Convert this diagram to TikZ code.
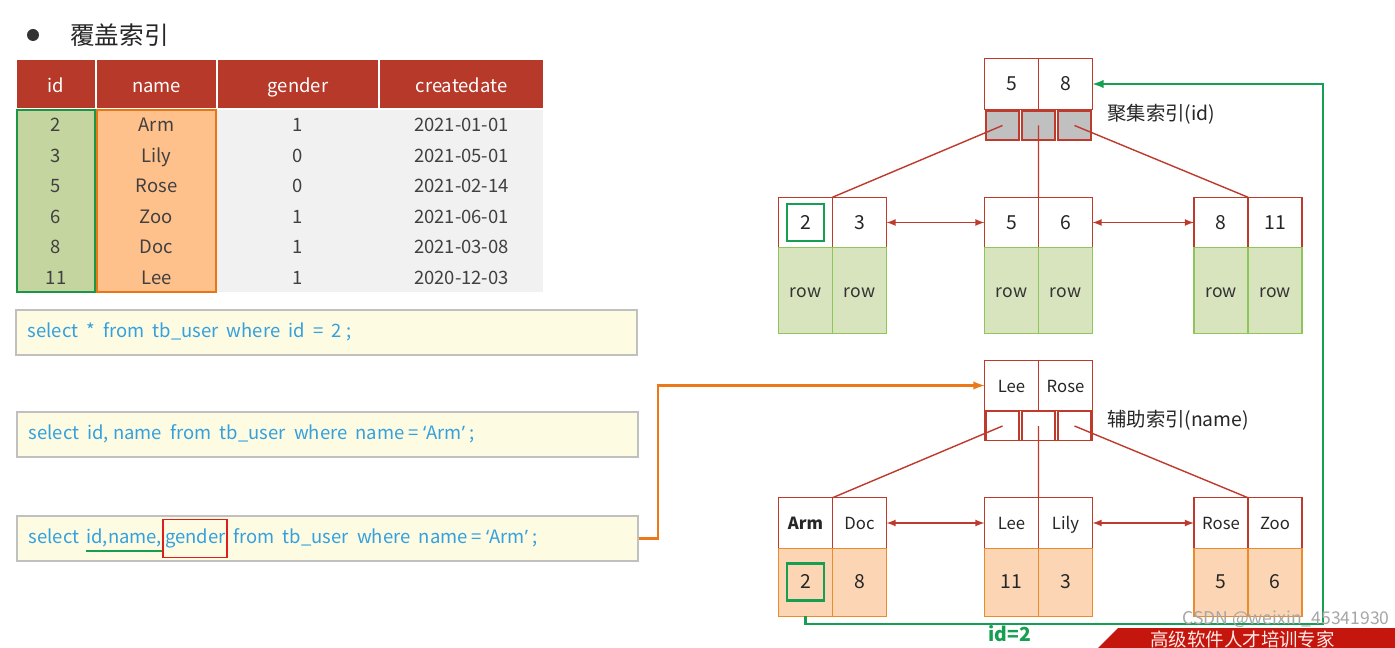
\documentclass[tikz,border=0pt]{standalone}
\usepackage{fontspec}
\setmainfont{Noto Sans CJK SC}
\newfontfamily\qfont{Noto Sans}
\usepackage{xcolor}
\usetikzlibrary{arrows,calc,positioning}

\definecolor{hdred}{RGB}{183,57,41}
\definecolor{bodygray}{RGB}{241,241,241}
\definecolor{idgreen}{RGB}{28,150,70}
\definecolor{idfill}{RGB}{197,213,160}
\definecolor{nmorange}{RGB}{232,118,20}
\definecolor{nmfill}{RGB}{255,193,140}
\definecolor{txtgray}{RGB}{64,64,64}
\definecolor{sqlbg}{RGB}{253,251,226}
\definecolor{boxgray}{RGB}{192,192,192}
\definecolor{sqlblue}{RGB}{52,160,222}
\definecolor{boxred}{RGB}{220,30,30}
\definecolor{treered}{RGB}{190,58,44}
\definecolor{ptrgray}{RGB}{192,192,192}
\definecolor{leafgreen}{RGB}{142,198,92}
\definecolor{rowgreen}{RGB}{216,228,190}
\definecolor{leaforange}{RGB}{234,140,44}
\definecolor{roworange}{RGB}{252,214,180}
\definecolor{hlgreen}{RGB}{22,158,82}
\definecolor{linkorange}{RGB}{236,120,24}
\definecolor{bannerred}{RGB}{196,22,12}

\newcommand{\qarm}{{\qfont ‘}Arm{\qfont ’}}

\begin{document}
\begin{tikzpicture}[x=0.02cm, y=-0.02cm,
	hdr/.style={fill=hdred, text=white, minimum height=0.96cm, inner sep=0pt, text height=10pt, text depth=0pt, font=\fontsize{10.5}{12}\selectfont},
	tval/.style={inner sep=0pt, text=txtgray, text height=8pt, text depth=0pt, font=\fontsize{10.5}{12}\selectfont},
	sqlbox/.style={draw=boxgray, fill=sqlbg, line width=0.8pt, minimum width=12.42cm, minimum height=0.9cm, inner sep=0pt},
	sqltxt/.style={inner sep=0pt, text=sqlblue, text height=8pt, text depth=2.5pt, font=\fontsize{10.5}{12}\selectfont},
	key/.style={draw=treered, fill=white, line width=0.8pt, outer sep=0pt, minimum width=1.08cm, minimum height=1.01cm, inner sep=0pt, text height=7.5pt, text depth=0pt, text=black!85, font=\fontsize{11}{12}\selectfont},
	ptr/.style={draw=treered, line width=0.8pt, outer sep=0pt, minimum width=0.66cm, minimum height=0.58cm, inner sep=0pt},
	rowg/.style={draw=leafgreen, fill=rowgreen, line width=0.8pt, outer sep=0pt, minimum width=1.08cm, minimum height=1.72cm, inner sep=0pt, text height=8pt, text depth=0pt, text=black!80, font=\fontsize{10}{12}\selectfont},
	rowo/.style={draw=leaforange, fill=roworange, line width=0.8pt, outer sep=0pt, minimum width=1.08cm, minimum height=1.36cm, inner sep=0pt, text height=7.5pt, text depth=0pt, text=black!85, font=\fontsize{11}{12}\selectfont},
	hlbox/.style={draw=hlgreen, line width=1.6pt, minimum size=0.74cm, inner sep=0pt},
	link/.style={treered, line width=0.8pt},
	dlink/.style={treered, line width=0.8pt, <->, >=latex},
	idx/.style={anchor=west, inner sep=0pt, text=black!85, font=\fontsize{11}{13}\selectfont}
	]
\useasboundingbox (0,0) rectangle (1395,648);
\fill[white] (0,0) rectangle (1395,648);

% Title
\node[circle, fill=black!80, minimum size=0.24cm, inner sep=0pt] (bul) at (33,35) {};
\node[anchor=west, inner sep=0pt, text=black!85, font=\fontsize{14}{16}\selectfont] (ttl) at (70,35) {覆盖索引};

% Table header
\foreach \x/\w/\t [count=\c] in {56/1.56/id, 156.5/2.38/name, 298/3.2/gender, 461.5/3.26/createdate}
	\node[hdr, minimum width=\w cm] (h\c) at (\x,84) {\t};

% Table body
\node[fill=bodygray, minimum width=10.52cm, minimum height=3.64cm, inner sep=0pt] (body) at (280,201) {};
\node[draw=idgreen, fill=idfill, line width=1.5pt, minimum width=1.56cm, minimum height=3.64cm, inner sep=0pt] (idcol) at (56,201) {};
\node[draw=nmorange, fill=nmfill, line width=1.5pt, minimum width=2.38cm, minimum height=3.64cm, inner sep=0pt] (nmcol) at (156.5,201) {};
\foreach \y/\a/\b/\g/\d [count=\r] in {124/2/Arm/1/2021-01-01, 155/3/Lily/0/2021-05-01, 185/5/Rose/0/2021-02-14, 216/6/Zoo/1/2021-06-01, 246/8/Doc/1/2021-03-08, 277/11/Lee/1/2020-12-03}{
	\node[tval] (id\r) at (56,\y) {\a};
	\node[tval] (nm\r) at (156.5,\y) {\b};
	\node[tval] (gd\r) at (298,\y) {\g};
	\node[tval] (cd\r) at (461.5,\y) {\d};
}

% SQL statements
\node[sqlbox] (q1) at (326.5,332.5) {};
\node[sqltxt, right=0.24cm of q1.west] (t1) {select \ * \ from \ tb\_user \ where \ id \ = \ 2 ;};
\node[sqlbox] (q2) at (327.5,434.5) {};
\node[sqltxt, right=0.24cm of q2.west] (t2) {select \ id, name \ from \ tb\_user \ where \ name = \qarm\ ;};
\node[sqlbox] (q3) at (327.5,538.5) {};
\node[sqltxt, right=0.24cm of q3.west] (t3a) {select};
\node[sqltxt, right=0.13cm of t3a] (t3b) {id,name,};
\node[sqltxt, draw=boxred, line width=1pt, inner xsep=1pt, minimum height=0.76cm, right=0pt of t3b] (t3c) {gender};
\node[sqltxt, right=0.1cm of t3c] (t3d) {from \ tb\_user \ where \ name = \qarm\ ;};
\draw[hlgreen, line width=1.2pt] ([yshift=-1.5pt]t3b.south west) -- ([yshift=-1.5pt]t3b.south east);

% Clustered index (id)
\node[key] (rk1) at (1011.5,84) {5};
\node[key, right=0pt of rk1] (rk2) {8};
\foreach \x [count=\p] in {1002.5,1038.5,1074.5}
	\node[ptr, fill=ptrgray] (rp\p) at (\x,125.5) {};
\node[idx] (rl) at (1107,114) {聚集索引(id)};
\foreach \i/\x/\ka/\kb in {1/805.5/2/3, 2/1011.5/5/6, 3/1221/8/11}{
	\node[key] (ck\i a) at (\x,222.5) {\ka};
	\node[key, right=0pt of ck\i a] (ck\i b) {\kb};
	\node[rowg, below=0pt of ck\i a] (cr\i a) {row};
	\node[rowg, below=0pt of ck\i b] (cr\i b) {row};
	\draw[link] (rp\i.center) -- (ck\i a.north east);
}
\node[hlbox] (hc) at (ck1a) {};
\draw[dlink] (ck1b.east) -- (ck2a.west);
\draw[dlink] (ck2b.east) -- (ck3a.west);

% Secondary index (name)
\node[key, font=\fontsize{9.5}{11}\selectfont] (sk1) at (1011.5,385.5) {Lee};
\node[key, font=\fontsize{9.5}{11}\selectfont, right=0pt of sk1] (sk2) {Rose};
\draw[treered, line width=0.8pt] (sk1.south west) rectangle ([yshift=-0.6cm]sk2.south east);
\foreach \x [count=\p] in {1002.5,1038.5,1074.5}
	\node[ptr, fill=white] (sp\p) at (\x,426) {};
\node[idx] (sl) at (1107,420) {辅助索引(name)};
\foreach \i/\x/\ka/\kb/\va/\vb in {1/805.5/\textbf{Arm}/Doc/2/8, 2/1011.5/Lee/Lily/11/3, 3/1221/Rose/Zoo/5/6}{
	\node[key, font=\fontsize{9.5}{11}\selectfont] (sk\i a) at (\x,523) {\ka};
	\node[key, font=\fontsize{9.5}{11}\selectfont, right=0pt of sk\i a] (sk\i b) {\kb};
	\node[rowo, below=0pt of sk\i a] (sv\i a) {\va};
	\node[rowo, below=0pt of sk\i b] (sv\i b) {\vb};
	\draw[link] (sp\i.center) -- (sk\i a.north east);
}
\node[hlbox] (hs) at (sv1a) {};
\draw[dlink] (sk1b.east) -- (sk2a.west);
\draw[dlink] (sk2b.east) -- (sk3a.west);

% Lookups
\draw[linkorange, line width=1.2pt, ->, >=latex] (q3.east) -- ++(0.38cm,0) |- (sk1.west);
\coordinate (gc) at (1323,624);
\draw[hlgreen, line width=1.2pt, ->, >=latex] (sv1a.south) |- (gc) |- (rk2.east);
\node[text=hlgreen, font=\bfseries\fontsize{11}{13}\selectfont] (idl) at (1010,634) {id=2};

% Banner
\fill[bannerred] (1098,648) -- (1118,628) -- (1395,628) -- (1395,648) -- cycle;
\node[anchor=west, inner sep=0pt, text=white!92!red, font=\fontsize{10.5}{12}\selectfont] (bn) at (1150,639) {高级软件人才培训专家};
\node[anchor=east, inner sep=0pt, text=black!35, font=\fontsize{10}{12}\selectfont] (wm) at (1390,619) {CSDN @weixin\_45341930};

\end{tikzpicture}
\end{document}
